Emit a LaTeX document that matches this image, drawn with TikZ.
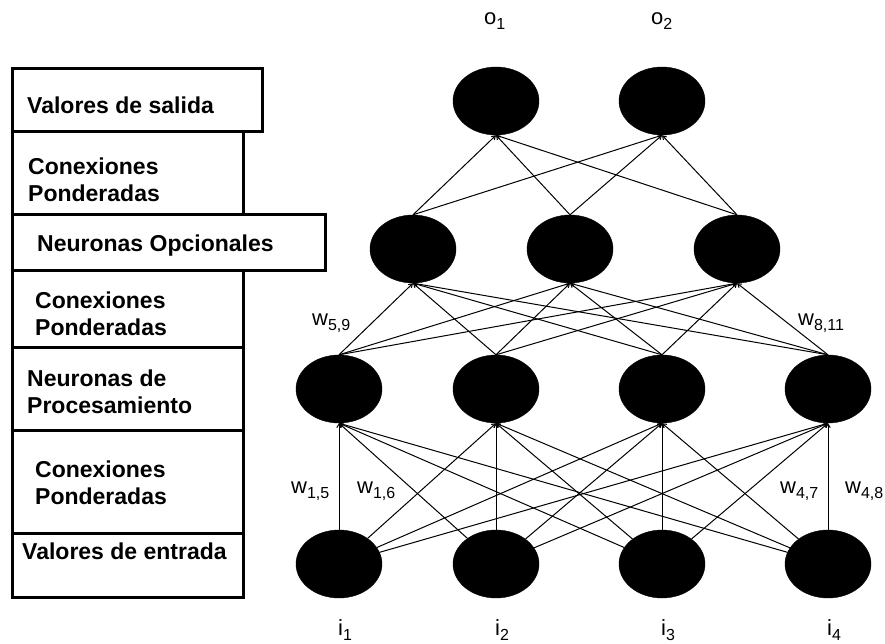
\documentclass[tikz,border=0pt]{standalone}
\usepackage{fontspec}
\setmainfont{Liberation Sans}
\usetikzlibrary{shapes.geometric,arrows.meta}
% lowered subscript for the weight and unit labels
\newcommand\lowsub[1]{\raisebox{-5pt}{\fontsize{16}{16}\selectfont #1}}
\begin{document}
\begin{tikzpicture}[x=1pt,y=-1pt,
  neuron/.style={ellipse,fill=black,draw=black,minimum width=86pt,minimum height=68pt,inner sep=0pt},
  conn/.style={line width=1pt,-{Straight Barb[length=3.5pt,width=4.5pt]}},
  layerbox/.style={draw=black,line width=3pt},
  boxtext/.style={anchor=west,align=left,inner sep=0pt,font=\bfseries\fontsize{23}{26.5}\selectfont},
  wlabel/.style={anchor=base west,inner sep=0pt,font=\fontsize{22}{22}\selectfont}]
\useasboundingbox (0,0) rectangle (885,644);

% layer legend on the left
\draw[layerbox] (12,69) rectangle (262,132);
\draw[layerbox] (12,132) rectangle (243,215);
\draw[layerbox] (12,215) rectangle (325,270);
\draw[layerbox] (12,270) rectangle (243,347);
\draw[layerbox] (12,347) rectangle (243,430);
\draw[layerbox] (12,430) rectangle (243,533);
\draw[layerbox] (12,533) rectangle (243,597);
\node[boxtext] (t1) at (27,105) {Valores de salida};
\node[boxtext] (t2) at (28,180) {Conexiones\\Ponderadas};
\node[boxtext] (t3) at (37,246) {Neuronas Opcionales};
\node[boxtext] (t4) at (35,314) {Conexiones\\Ponderadas};
\node[boxtext] (t5) at (27,392) {Neuronas de\\Procesamiento};
\node[boxtext] (t6) at (35,483) {Conexiones\\Ponderadas};
\node[boxtext] (t7) at (22,551) {Valores de entrada};

% neurons
\node[neuron] (o1) at (496,101) {};
\node[neuron] (o2) at (662,101) {};
\node[neuron] (p1) at (413,249) {};
\node[neuron] (p2) at (570,249) {};
\node[neuron] (p3) at (737,249) {};
\node[neuron] (h1) at (339,389) {};
\node[neuron] (h2) at (496,389) {};
\node[neuron] (h3) at (662,389) {};
\node[neuron] (h4) at (828,389) {};
\node[neuron] (i1) at (339,564) {};
\node[neuron] (i2) at (496,564) {};
\node[neuron] (i3) at (662,564) {};
\node[neuron] (i4) at (828,564) {};

% weighted connections
\foreach \a in {1,...,4}{\foreach \b in {1,...,4}{\draw[conn] (i\a) -- (h\b.south);}}
\foreach \a in {1,...,4}{\foreach \b in {1,2,3}{\draw[conn] (h\a.north) -- (p\b.south);}}
\foreach \a in {1,2,3}{\foreach \b in {1,2}{\draw[conn] (p\a.north) -- (o\b.south);}}

% labels
\node[wlabel] (lo1) at (484,25) {o\lowsub{1}};
\node[wlabel] (lo2) at (651,25) {o\lowsub{2}};
\node[wlabel] (li1) at (338,635) {i\lowsub{1}};
\node[wlabel] (li2) at (495,635) {i\lowsub{2}};
\node[wlabel] (li3) at (661,635) {i\lowsub{3}};
\node[wlabel] (li4) at (827,635) {i\lowsub{4}};
\node[wlabel] (w59) at (312,325) {w\lowsub{5,9}};
\node[wlabel] (w811) at (798,325) {w\lowsub{8,11}};
\node[wlabel] (w15) at (291,493) {w\lowsub{1,5}};
\node[wlabel] (w16) at (357,493) {w\lowsub{1,6}};
\node[wlabel] (w47) at (780,493) {w\lowsub{4,7}};
\node[wlabel] (w48) at (845,493) {w\lowsub{4,8}};
\end{tikzpicture}
\end{document}
